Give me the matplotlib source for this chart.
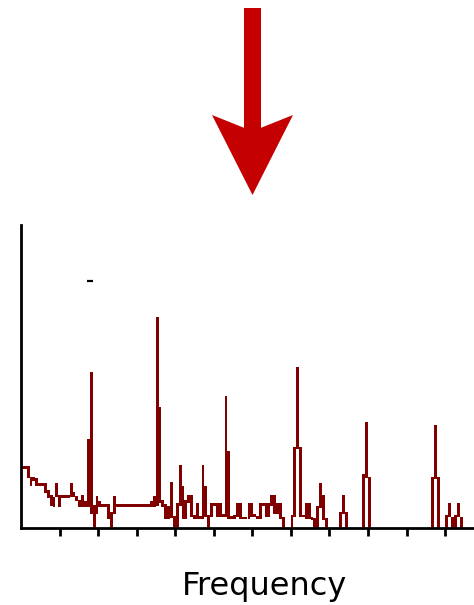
import numpy as np
import matplotlib
matplotlib.use('Agg')
import matplotlib.pyplot as plt
from matplotlib.patches import FancyArrow

# ================== data ==================
# spectrum drawn as min/max envelope per frequency bin (amplitude, arbitrary units)
BINS_PER_UNIT = 13.45
N_BINS = 158

bin_lo = [
    59, 59, 50, 42, 47, 42, 42, 42, 35, 30,
    22, 21, 31, 21, 30, 30, 30, 31, 31, 27,
    21, 21, 21, 21, 14, 0, 14, 21, 21, 21,
    9, 0, 14, 21, 21, 21, 21, 21, 21, 21,
    21, 21, 21, 21, 21, 21, 21, 22, 25, 21,
    9, 9, 10, 0, 0, 22, 9, 9, 25, 11,
    9, 9, 9, 9, 11, 0, 11, 22, 11, 11,
    11, 11, 9, 9, 9, 11, 9, 9, 9, 9,
    11, 11, 9, 9, 22, 11, 11, 22, 14, 14,
    9, 0, 0, 0, 0, 11, 79, 11, 11, 9,
    9, 8, 0, 0, 20, 8, 0, 0, 0, 0,
    0, 0, 14, 0, 0, 0, 0, 0, 0, 0,
    50, 0, 0, 0, 0, 0, 0, 0, 0, 0,
    0, 0, 0, 0, 0, 0, 0, 0, 0, 0,
    0, 0, 0, 0, 49, 0, 0, 0, 0, 11,
    0, 0, 11, 0, 0, 0, 0, 0,
]
bin_hi = [
    62, 62, 62, 51, 51, 50, 45, 45, 45, 38,
    33, 31, 45, 33, 33, 33, 33, 45, 36, 32,
    28, 33, 27, 89, 156, 23, 32, 27, 24, 24,
    24, 16, 32, 24, 24, 24, 24, 24, 24, 24,
    24, 24, 24, 24, 24, 27, 32, 211, 121, 28,
    24, 22, 46, 12, 25, 63, 42, 28, 33, 33,
    13, 25, 12, 63, 42, 13, 25, 25, 25, 25,
    14, 132, 77, 12, 13, 25, 25, 11, 11, 25,
    25, 14, 12, 25, 25, 25, 25, 33, 33, 25,
    25, 11, 0, 0, 13, 81, 161, 81, 13, 25,
    25, 11, 10, 22, 45, 33, 10, 0, 0, 0,
    0, 16, 33, 16, 0, 0, 0, 0, 0, 54,
    106, 51, 0, 0, 0, 0, 0, 0, 0, 0,
    0, 0, 0, 0, 0, 0, 0, 0, 0, 0,
    0, 0, 0, 51, 103, 51, 0, 0, 13, 25,
    11, 13, 25, 11, 0, 0, 0, 0,
]

# small black dash above the first peak
dash_freq = [1.71, 1.87]
dash_level = 247

Y_MAX = 303
LINE_COLOR = '#800000'
ARROW_COLOR = '#c40000'

# ================== figure ==================
fig = plt.figure(figsize=(4.74, 6.05), dpi=100)
ax = fig.add_axes([21 / 474, 77 / 605, 453 / 474, 303 / 605])

bw = 1 / BINS_PER_UNIT
centers = (np.arange(N_BINS) + 0.5) * bw
lo = np.array(bin_lo)
hi = np.array(bin_hi)
ax.bar(centers, hi - lo, bottom=lo, width=bw, color=LINE_COLOR,
       linewidth=0, antialiased=False)
ax.plot(dash_freq, [dash_level, dash_level], color='black', lw=1.6,
        solid_capstyle='butt')

ax.set_xlim(0, N_BINS * bw)
ax.set_ylim(0, Y_MAX)
ax.set_xticks(np.arange(1, 12))
ax.set_xticklabels([])
ax.set_yticks([])
ax.tick_params(axis='x', direction='out', length=5.5, width=2, color='black')
for s in ['top', 'right']:
    ax.spines[s].set_visible(False)
for s in ['left', 'bottom']:
    ax.spines[s].set_linewidth(2)
    ax.spines[s].set_zorder(3)

fig.text(265 / 474, 10 / 605, 'Frequency', ha='center', va='baseline',
         fontsize=23, family='DejaVu Sans')

# big arrow pointing down at the plot (pixel overlay)
over = fig.add_axes([0, 0, 1, 1])
over.set_xlim(0, 474)
over.set_ylim(605, 0)
over.axis('off')
over.add_patch(FancyArrow(252.5, 8, 0, 187, width=17, head_width=81,
                          head_length=80, overhang=0.16,
                          length_includes_head=True, color=ARROW_COLOR, lw=0))

fig.savefig('out.png', dpi=100)
